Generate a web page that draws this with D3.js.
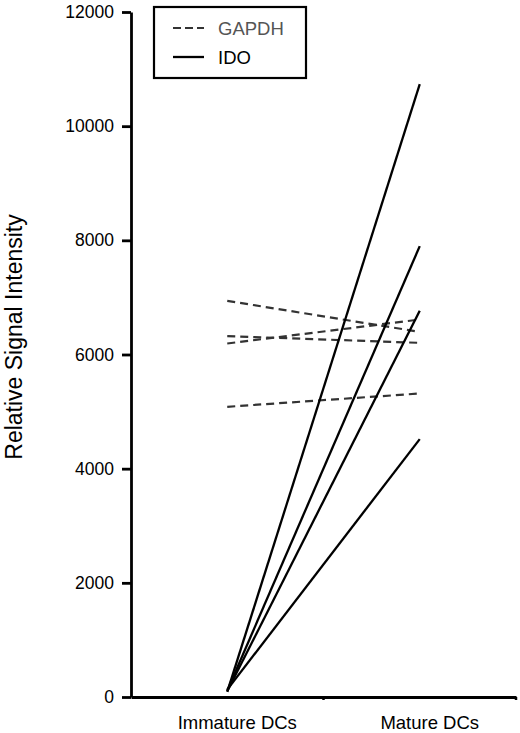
<!DOCTYPE html>
<html><head><meta charset="utf-8">
<script src="https://cdn.jsdelivr.net/npm/d3@7/dist/d3.min.js"></script>
<style>body{margin:0;background:#fff;}svg{display:block;font-family:Arial,"Liberation Sans",sans-serif;}</style>
</head><body>
<svg id="c" width="520" height="733"></svg>
<script>
const categories = ["Immature DCs", "Mature DCs"];
const gapdhImmature = [6940, 6322, 6193, 5084];
const gapdhMature   = [6396, 6204, 6613, 5317];
const idoImmature   = [90, 110, 100, 130];
const idoMature     = [10735, 7898, 6765, 4518];
const yTicks = [0, 2000, 4000, 6000, 8000, 10000, 12000];
const legendLabels = ["GAPDH", "IDO"];

const svg = d3.select("#c");
const mLeft = 131, mRight = 516, mTop = 12, mBottom = 697;
const x = d3.scaleBand().domain(categories).range([mLeft, mRight]);
const y = d3.scaleLinear().domain([0, 12000]).range([mBottom, mTop]);
const cx = c => x(c) + x.bandwidth() / 2;

// y axis
const yAxis = svg.append("g").attr("transform", `translate(${mLeft},0)`)
  .call(d3.axisLeft(y).tickValues(yTicks).tickSize(9).tickSizeOuter(0).tickPadding(8).tickFormat(d3.format("d")));
yAxis.select(".domain").attr("stroke", "#000").attr("stroke-width", 2.8);
yAxis.selectAll(".tick line").attr("stroke", "#000").attr("stroke-width", 2.8);
yAxis.selectAll(".tick text").attr("font-size", 17.5).attr("fill", "#000").attr("font-family", "Arial, Liberation Sans, sans-serif");

// x axis
const xAxis = svg.append("g").attr("transform", `translate(0,${mBottom})`)
  .call(d3.axisBottom(x).tickSize(0).tickSizeOuter(0).tickPadding(19));
xAxis.select(".domain").attr("stroke", "#000").attr("stroke-width", 2.8);
xAxis.selectAll(".tick text").attr("font-size", 18.5).attr("fill", "#000").attr("dx", 10)
  .attr("font-family", "Arial, Liberation Sans, sans-serif");
xAxis.selectAll(".nub").data(categories).enter().append("line")
  .attr("x1", d => x(d) + x.bandwidth()).attr("x2", d => x(d) + x.bandwidth())
  .attr("y1", 0).attr("y2", 3).attr("stroke", "#000").attr("stroke-width", 2.5);

// y label
svg.append("text").attr("transform", `translate(22,337) rotate(-90)`)
  .attr("text-anchor", "middle").attr("font-size", 23).attr("fill", "#000")
  .text("Relative Signal Intensity");

// GAPDH dashed lines
gapdhImmature.forEach((v, i) => {
  svg.append("line")
    .attr("x1", cx(categories[0])).attr("y1", y(v))
    .attr("x2", cx(categories[1])).attr("y2", y(gapdhMature[i]))
    .attr("stroke", "#333").attr("stroke-width", 2.2).attr("stroke-dasharray", "8,5");
});
// IDO solid lines
idoImmature.forEach((v, i) => {
  svg.append("line")
    .attr("x1", cx(categories[0])).attr("y1", y(v))
    .attr("x2", cx(categories[1])).attr("y2", y(idoMature[i]))
    .attr("stroke", "#000").attr("stroke-width", 2.3);
});

// legend
const lg = svg.append("g");
lg.append("rect").attr("x", 154).attr("y", 7).attr("width", 152).attr("height", 71)
  .attr("fill", "#fff").attr("stroke", "#000").attr("stroke-width", 2.2);
lg.append("line").attr("x1", 173).attr("x2", 204).attr("y1", 28).attr("y2", 28)
  .attr("stroke", "#333").attr("stroke-width", 2.2).attr("stroke-dasharray", "8,4");
lg.append("line").attr("x1", 173).attr("x2", 204).attr("y1", 57).attr("y2", 57)
  .attr("stroke", "#000").attr("stroke-width", 2.3);
lg.append("text").attr("x", 218).attr("y", 35).attr("font-size", 18.5).attr("fill", "#555").text(legendLabels[0]);
lg.append("text").attr("x", 218).attr("y", 64).attr("font-size", 18.5).attr("fill", "#000").text(legendLabels[1]);
</script>
</body></html>
